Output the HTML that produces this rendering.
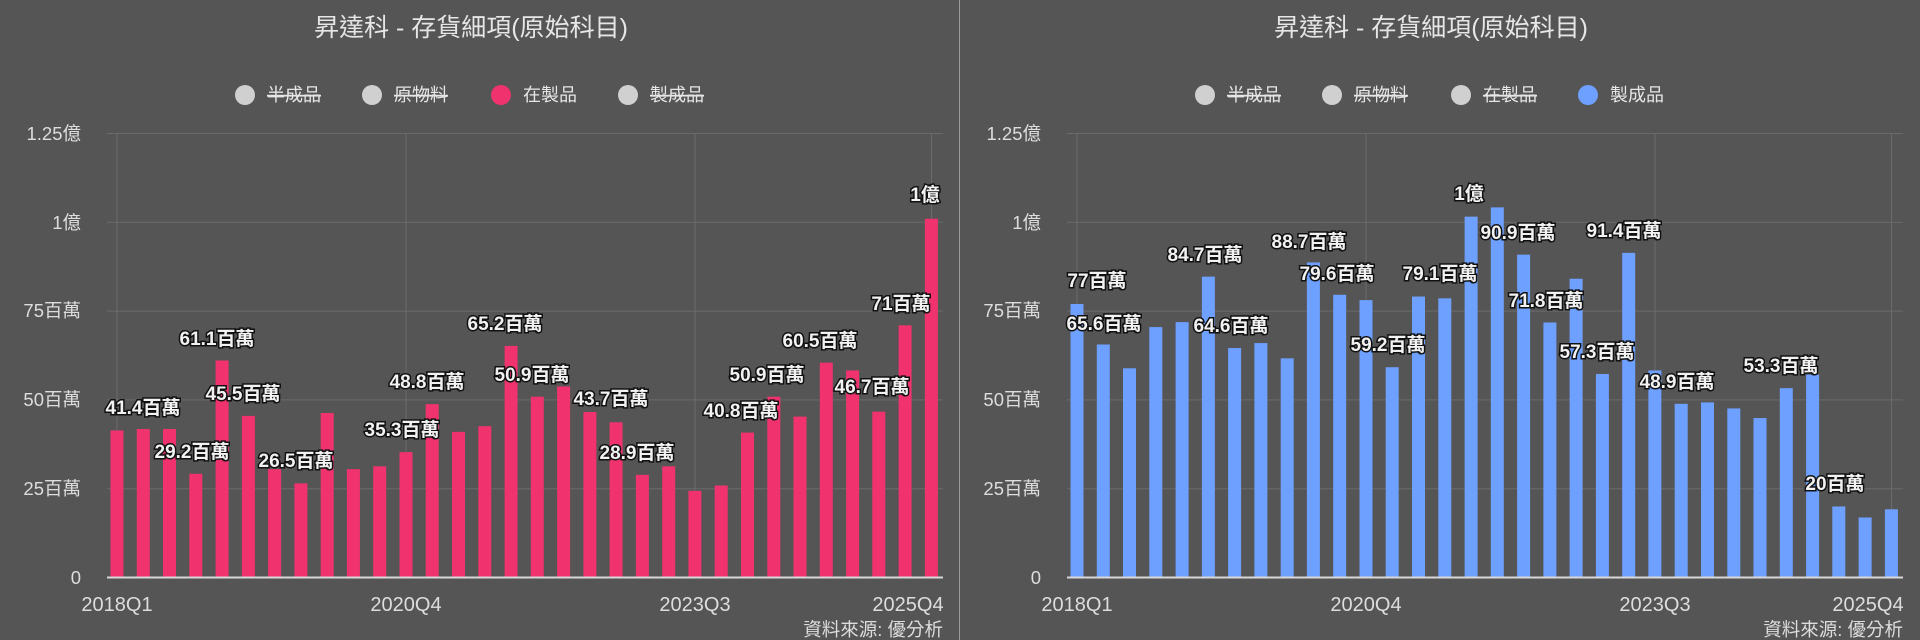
<!DOCTYPE html>
<html><head><meta charset="utf-8"><style>
html,body{margin:0;padding:0;background:#555;}
svg{display:block;font-family:"Liberation Sans","Noto Sans CJK TC",sans-serif;}
.t{fill:#e6e6e6;font-size:25px;text-anchor:middle}
.lg{fill:#e6e6e6;font-size:18px}
.st{text-decoration:line-through}
.ax{fill:#ddd;font-size:18.5px}
.yl{text-anchor:end}
.xl{text-anchor:middle;font-size:20px}
.lb{fill:#f2f2f2;font-size:19px;font-weight:bold;stroke:#111;stroke-width:3px;paint-order:stroke;text-anchor:middle;dominant-baseline:middle}
.g{stroke:#6b6b6b;stroke-width:1}
</style></head><body>
<svg width="1920" height="640" viewBox="0 0 1920 640">
<rect width="1920" height="640" fill="#555"/>
<line x1="959.5" y1="0" x2="959.5" y2="640" stroke="#9a9a9a" stroke-width="1"/>

<!-- LEFT PANEL -->
<g>
<text class="t" x="471" y="36">昇達科 - 存貨細項(原始科目)</text>
<circle cx="245" cy="95" r="10" fill="#d0d0d0"/><text class="lg st" x="267" y="101">半成品</text>
<circle cx="372" cy="95" r="10" fill="#d0d0d0"/><text class="lg st" x="394" y="101">原物料</text>
<circle cx="501" cy="95" r="10" fill="#f0336e"/><text class="lg" x="523" y="101">在製品</text>
<circle cx="628" cy="95" r="10" fill="#d0d0d0"/><text class="lg st" x="650" y="101">製成品</text>
<g class="g">
<line x1="107" y1="133.5" x2="943" y2="133.5"/><line x1="107" y1="222.3" x2="943" y2="222.3"/><line x1="107" y1="311.1" x2="943" y2="311.1"/><line x1="107" y1="399.9" x2="943" y2="399.9"/><line x1="107" y1="488.7" x2="943" y2="488.7"/>
<line x1="117" y1="133.5" x2="117" y2="577.5"/><line x1="406" y1="133.5" x2="406" y2="577.5"/><line x1="695" y1="133.5" x2="695" y2="577.5"/><line x1="931.5" y1="133.5" x2="931.5" y2="577.5"/>
</g>
<g class="ax yl"><text x="81" y="140">1.25億</text><text x="81" y="229">1億</text><text x="81" y="317">75百萬</text><text x="81" y="406">50百萬</text><text x="81" y="495">25百萬</text><text x="81" y="584">0</text></g>
<g class="ax xl"><text x="117" y="611">2018Q1</text><text x="406" y="611">2020Q4</text><text x="695" y="611">2023Q3</text><text x="908" y="611">2025Q4</text></g>
<text class="ax" x="943" y="636" text-anchor="end" font-size="16">資料來源: 優分析</text>
<g fill="#f0336e" transform="translate(0,577.5) scale(1,-3.552)">
<rect x="110.5" width="13" height="41.4"/><rect x="136.8" width="13" height="41.8"/><rect x="163.0" width="13" height="41.8"/><rect x="189.3" width="13" height="29.2"/><rect x="215.6" width="13" height="61.1"/><rect x="241.9" width="13" height="45.5"/><rect x="268.1" width="13" height="30.5"/><rect x="294.4" width="13" height="26.5"/><rect x="320.7" width="13" height="46.3"/><rect x="346.9" width="13" height="30.5"/><rect x="373.2" width="13" height="31.3"/><rect x="399.5" width="13" height="35.3"/><rect x="425.7" width="13" height="48.8"/><rect x="452.0" width="13" height="41.0"/><rect x="478.3" width="13" height="42.6"/><rect x="504.6" width="13" height="65.2"/><rect x="530.8" width="13" height="50.9"/><rect x="557.1" width="13" height="53.8"/><rect x="583.4" width="13" height="46.6"/><rect x="609.6" width="13" height="43.7"/><rect x="635.9" width="13" height="28.9"/><rect x="662.2" width="13" height="31.3"/><rect x="688.4" width="13" height="24.4"/><rect x="714.7" width="13" height="25.9"/><rect x="741.0" width="13" height="40.8"/><rect x="767.3" width="13" height="50.9"/><rect x="793.5" width="13" height="45.3"/><rect x="819.8" width="13" height="60.5"/><rect x="846.1" width="13" height="58.3"/><rect x="872.3" width="13" height="46.7"/><rect x="898.6" width="13" height="71"/><rect x="924.9" width="13" height="101"/>
</g>
<line x1="107" y1="577.5" x2="943" y2="577.5" stroke="#d8d8d8" stroke-width="2"/>
<g class="lb">
<text x="143" y="409">41.4百萬</text><text x="192" y="453">29.2百萬</text><text x="217" y="340">61.1百萬</text><text x="243" y="395">45.5百萬</text><text x="296" y="462">26.5百萬</text><text x="402" y="431">35.3百萬</text><text x="427" y="383">48.8百萬</text><text x="505" y="325">65.2百萬</text><text x="532" y="376">50.9百萬</text><text x="611" y="400">43.7百萬</text><text x="637" y="454">28.9百萬</text><text x="741" y="412">40.8百萬</text><text x="767" y="376">50.9百萬</text><text x="820" y="342">60.5百萬</text><text x="872" y="388">46.7百萬</text><text x="901" y="305">71百萬</text><text x="925" y="196">1億</text>
</g>
</g>

<!-- RIGHT PANEL -->
<g transform="translate(960,0)">
<text class="t" x="471" y="36">昇達科 - 存貨細項(原始科目)</text>
<circle cx="245" cy="95" r="10" fill="#d0d0d0"/><text class="lg st" x="267" y="101">半成品</text>
<circle cx="372" cy="95" r="10" fill="#d0d0d0"/><text class="lg st" x="394" y="101">原物料</text>
<circle cx="501" cy="95" r="10" fill="#d0d0d0"/><text class="lg st" x="523" y="101">在製品</text>
<circle cx="628" cy="95" r="10" fill="#6ea0ff"/><text class="lg" x="650" y="101">製成品</text>
<g class="g">
<line x1="107" y1="133.5" x2="943" y2="133.5"/><line x1="107" y1="222.3" x2="943" y2="222.3"/><line x1="107" y1="311.1" x2="943" y2="311.1"/><line x1="107" y1="399.9" x2="943" y2="399.9"/><line x1="107" y1="488.7" x2="943" y2="488.7"/>
<line x1="117" y1="133.5" x2="117" y2="577.5"/><line x1="406" y1="133.5" x2="406" y2="577.5"/><line x1="695" y1="133.5" x2="695" y2="577.5"/><line x1="931.5" y1="133.5" x2="931.5" y2="577.5"/>
</g>
<g class="ax yl"><text x="81" y="140">1.25億</text><text x="81" y="229">1億</text><text x="81" y="317">75百萬</text><text x="81" y="406">50百萬</text><text x="81" y="495">25百萬</text><text x="81" y="584">0</text></g>
<g class="ax xl"><text x="117" y="611">2018Q1</text><text x="406" y="611">2020Q4</text><text x="695" y="611">2023Q3</text><text x="908" y="611">2025Q4</text></g>
<text class="ax" x="943" y="636" text-anchor="end" font-size="16">資料來源: 優分析</text>
<g fill="#6ea0ff" transform="translate(0,577.5) scale(1,-3.552)">
<rect x="110.5" width="13" height="77"/><rect x="136.8" width="13" height="65.6"/><rect x="163.0" width="13" height="58.9"/><rect x="189.3" width="13" height="70.5"/><rect x="215.6" width="13" height="71.9"/><rect x="241.9" width="13" height="84.7"/><rect x="268.1" width="13" height="64.6"/><rect x="294.4" width="13" height="66"/><rect x="320.7" width="13" height="61.7"/><rect x="346.9" width="13" height="88.7"/><rect x="373.2" width="13" height="79.6"/><rect x="399.5" width="13" height="78.1"/><rect x="425.7" width="13" height="59.2"/><rect x="452.0" width="13" height="79.1"/><rect x="478.3" width="13" height="78.6"/><rect x="504.6" width="13" height="101.6"/><rect x="530.8" width="13" height="104.2"/><rect x="557.1" width="13" height="90.9"/><rect x="583.4" width="13" height="71.8"/><rect x="609.6" width="13" height="84.1"/><rect x="635.9" width="13" height="57.3"/><rect x="662.2" width="13" height="91.4"/><rect x="688.4" width="13" height="58.3"/><rect x="714.7" width="13" height="48.9"/><rect x="741.0" width="13" height="49.3"/><rect x="767.3" width="13" height="47.6"/><rect x="793.5" width="13" height="44.9"/><rect x="819.8" width="13" height="53.3"/><rect x="846.1" width="13" height="57.1"/><rect x="872.3" width="13" height="20"/><rect x="898.6" width="13" height="16.9"/><rect x="924.9" width="13" height="19.2"/>
</g>
<line x1="107" y1="577.5" x2="943" y2="577.5" stroke="#d8d8d8" stroke-width="2"/>
<g class="lb">
<text x="137" y="282">77百萬</text><text x="144" y="325">65.6百萬</text><text x="245" y="256">84.7百萬</text><text x="271" y="327">64.6百萬</text><text x="349" y="243">88.7百萬</text><text x="377" y="275">79.6百萬</text><text x="428" y="346">59.2百萬</text><text x="480" y="275">79.1百萬</text><text x="509" y="195">1億</text><text x="558" y="234">90.9百萬</text><text x="664" y="232">91.4百萬</text><text x="586" y="302">71.8百萬</text><text x="637" y="353">57.3百萬</text><text x="717" y="383">48.9百萬</text><text x="821" y="367">53.3百萬</text><text x="875" y="485">20百萬</text>
</g>
</g>
</svg>
</body></html>
